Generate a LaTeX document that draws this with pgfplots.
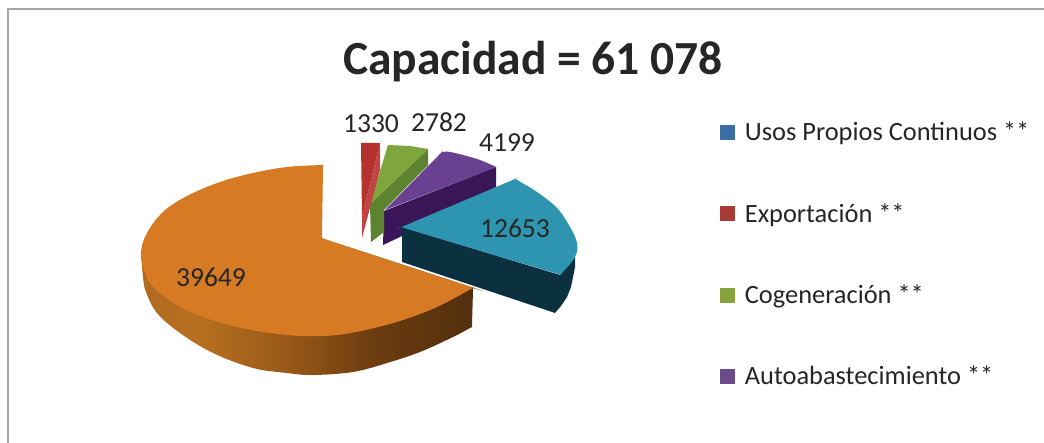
\documentclass[border=0pt]{standalone}
\usepackage{pgfplots}
\pgfplotsset{compat=1.18}
\usepackage{fontspec}
\setmainfont{Carlito}
\definecolor{txt}{HTML}{262626}
\definecolor{frameg}{HTML}{A6A6A6}
\definecolor{otop}{HTML}{D67B24}
\definecolor{btop}{HTML}{2E95B0}
\definecolor{bside}{HTML}{0B3040}
\definecolor{ptop}{HTML}{6A4190}
\definecolor{pside}{HTML}{3A1558}
\definecolor{gtop}{HTML}{7FA63C}
\definecolor{gside}{HTML}{5D8230}
\definecolor{rtop}{HTML}{B5322F}
\definecolor{rside}{HTML}{C04543}
\definecolor{legb}{HTML}{3A6EA5}
\definecolor{legr}{HTML}{A83A38}
\definecolor{legg}{HTML}{86A340}
\definecolor{legp}{HTML}{6D4A8A}
\definecolor{os1}{HTML}{B06A20}
\definecolor{os2}{HTML}{B87020}
\definecolor{os3}{HTML}{9A5A18}
\definecolor{os4}{HTML}{6B3C10}
\definecolor{os5}{HTML}{4E2C0C}
\pgfdeclarehorizontalshading{orangeside}{100bp}{
color(0bp)=(os1); color(25bp)=(os1); color(33bp)=(os2); color(45bp)=(os3);
color(58bp)=(os4); color(75bp)=(os5); color(100bp)=(os5)}
\begin{document}
\begin{tikzpicture}
\begin{axis}[
  scale only axis, width=1044pt, height=443pt,
  xmin=0, xmax=1044, ymin=0, ymax=443, y dir=reverse,
  hide axis, clip=true,
  legend style={at={(axis cs:716.5,120)}, anchor=north west, draw=none, fill=none,
    font=\fontsize{26.4}{28}\selectfont\color{txt}, row sep=61pt,
    nodes={inner xsep=3pt, inner ysep=0pt}},
  legend cell align=left,
  legend image code/.code={\fill[#1] (0pt,-7pt) rectangle (14pt,7pt); \path[draw=none] (0pt,0pt) -- (22pt,0pt);},
]
% page background and frame
\addplot[forget plot, draw=none, fill=white] coordinates {(0,0) (1044,0) (1044,443) (0,443)};
\addplot[forget plot, frameg, line width=2pt] coordinates {(8,443) (8,9) (1044,9)};
% orange side
\addplot[forget plot, draw=none, shading=orangeside, smooth, tension=0.6] coordinates {
 (141,252) (141,252) (141,252) (143,277) (146,292) (157,313) (180,333) (213,353) (253,368) (287,373)
 (313,375) (353,372) (387,363) (420,352) (453,337) (470,328) (472,327) (472,327) (472,327) (472,325) (473,290) (473,288) (473,288) (473,288)
 (471,287) (324,239) (322,238) (322,238) (322,238)};
% orange top
\addplot[forget plot, draw=none, fill=otop, smooth, tension=0.6] coordinates {
 (324,239) (322,238) (322,238) (322,238) (322,236) (323,167) (323,165) (323,165) (323,165) (321,165) (287,167) (253,173) (220,182) (187,196) (163,212) (147,233)
 (141,252) (144,270) (153,287) (177,305) (203,317) (237,327) (270,333) (303,336)
 (337,335) (370,329) (403,320) (437,307) (471,289) (473,288) (473,288) (473,288) (471,287)};
% purple
\addplot[forget plot, draw=none, fill=pside] coordinates {
 (384,211) (496,167) (496,187) (400,237) (383,245)};
\addplot[forget plot, draw=none, fill=ptop, smooth, tension=0.6] coordinates {
 (385,210) (384,211) (384,211) (384,211) (386,209) (437,157) (443,152) (450,152) (463,155) (480,160) (494,166) (496,167) (496,167) (496,167) (494,168)};
% green
\addplot[forget plot, draw=none, fill=gside] coordinates {
 (370,204) (428,149) (428,165) (384,210) (384,232) (371,242)};
\addplot[forget plot, draw=none, fill=gtop] coordinates {
 (370,204) (388,145) (410,146) (428,149)};
% red
\addplot[forget plot, draw=none, fill=rside] coordinates {
 (362,217) (380,143) (380,170) (362,238)};
\addplot[forget plot, draw=none, fill=rtop] coordinates {
 (361,143) (380,143) (362,217)};
% blue
\addplot[forget plot, draw=none, fill=bside] coordinates {
 (402,227) (402,262) (555,313) (561,306) (567,297) (571,287) (573,277) (575,267) (575,257) (560,275)};
\addplot[forget plot, draw=none, fill=btop, smooth, tension=0.6] coordinates {
 (404,228) (402,227) (402,227) (402,227) (404,226) (508,182) (515,179) (522,183) (537,192) (557,208) (570,227) (577,243) (575,257) (562,273) (560,275) (560,275) (560,275) (558,274)};
% data labels
\node[font=\fontsize{27.5}{30}\selectfont, text=txt] at (axis cs:211,277) {39649};
\node[font=\fontsize{27.5}{30}\selectfont, text=txt] at (axis cs:515,228) {12653};
\node[font=\fontsize{27.5}{30}\selectfont, text=txt] at (axis cs:371,124) {1330};
\node[font=\fontsize{27.5}{30}\selectfont, text=txt] at (axis cs:439,122) {2782};
\node[font=\fontsize{27.5}{30}\selectfont, text=txt] at (axis cs:507,143) {4199};
% title
\node[font=\bfseries\fontsize{47.5}{50}\selectfont, text=txt] at (axis cs:533,62) {Capacidad = 61 078};
% legend
\addlegendimage{legb}\addlegendentry{Usos Propios Continuos **}
\addlegendimage{legr}\addlegendentry{Exportación **}
\addlegendimage{legg}\addlegendentry{Cogeneración **}
\addlegendimage{legp}\addlegendentry{Autoabastecimiento **}
\end{axis}
\end{tikzpicture}
\end{document}
